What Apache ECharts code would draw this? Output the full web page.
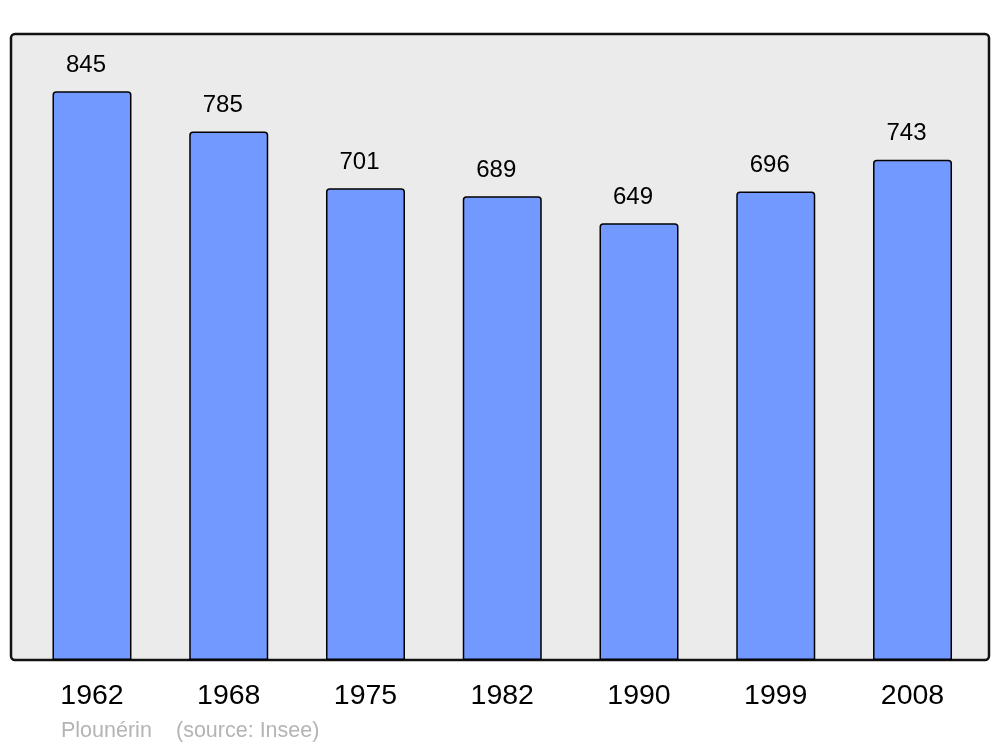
<!DOCTYPE html>
<html>
<head>
<meta charset="utf-8">
<script src="https://cdn.jsdelivr.net/npm/echarts@6/dist/echarts.min.js"></script>
<style>
    html, body { margin: 0; padding: 0; background: #fff; }
    #chart { width: 1000px; height: 747px; }
</style>
</head>
<body>
<div id="chart"></div>
<script>
    // données population (Insee)
    let years = ["1962", "1968", "1975", "1982", "1990", "1999", "2008"]
    let population = [845, 785, 701, 689, 649, 696, 743]
    let place = "Plounérin"
    let source = "(source: Insee)"

    let chart = echarts.init(document.getElementById('chart'))

    let font = "'Liberation Sans', Arial, sans-serif"

    let option = {
        animation: false,
        textStyle: { fontFamily: font },
        grid: { left: 23.6, right: 19.1, top: 34, bottom: 87 },
        graphic: [
            {
                type: 'rect',
                z: -10,
                shape: { x: 11, y: 34, width: 978, height: 626, r: 4 },
                style: { fill: '#ebebeb', stroke: '#111', lineWidth: 2.5 }
            },
            {
                type: 'text',
                left: 61, top: 720,
                style: { text: place, fill: '#b4b4b4', font: '21.5px ' + font }
            },
            {
                type: 'text',
                left: 176, top: 720,
                style: { text: source, fill: '#b4b4b4', font: '21.5px ' + font }
            }
        ],
        xAxis: {
            type: 'category',
            data: years,
            axisLine: { show: false },
            axisTick: { show: false },
            axisLabel: { color: '#000', fontSize: 28.5, margin: 22, fontFamily: font }
        },
        yAxis: {
            type: 'value',
            min: 0,
            max: 930,
            show: false,
            splitLine: { show: false }
        },
        series: [{
            type: 'bar',
            data: population,
            barWidth: 79,
            itemStyle: {
                color: '#7299ff',
                borderColor: '#000',
                borderWidth: 1.5,
                borderRadius: [3, 3, 0, 0]
            },
            label: {
                show: true,
                position: 'top',
                distance: 14,
                offset: [-6, 0],
                color: '#000',
                fontSize: 24,
                fontFamily: font
            }
        }]
    }

    chart.setOption(option)
</script>
</body>
</html>
